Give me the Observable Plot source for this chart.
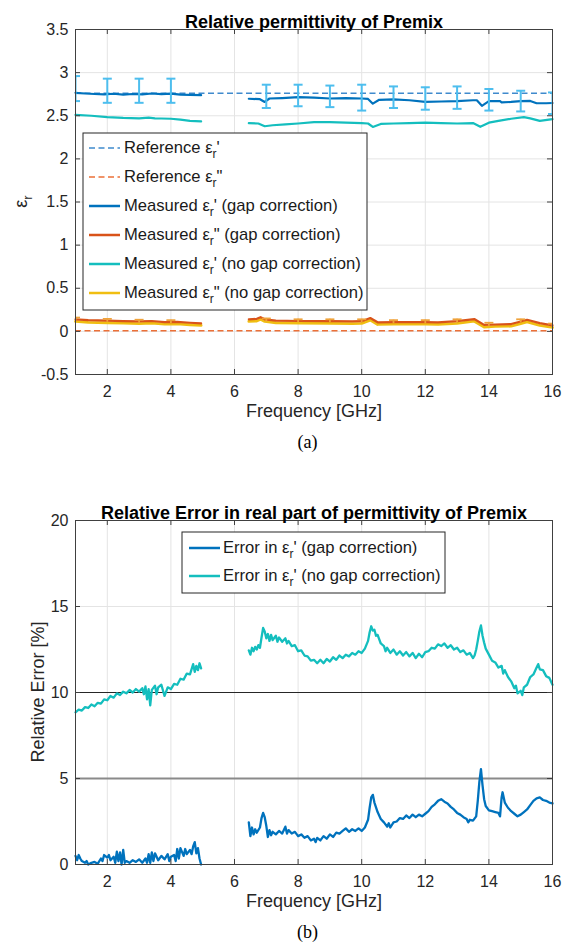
<!DOCTYPE html>
<html><head><meta charset="utf-8">
<script src="https://cdn.jsdelivr.net/npm/d3@7"></script>
<script src="https://cdn.jsdelivr.net/npm/@observablehq/plot@0.6"></script>
<style>
html,body{margin:0;padding:0;background:#fff;}
#c svg{display:block;}
</style>
</head><body><div id="c"></div>
<script>
// ---------- DATA ----------
const xTicks = [2, 4, 6, 8, 10, 12, 14, 16];
const yTicksTop = [-0.5, 0, 0.5, 1, 1.5, 2, 2.5, 3, 3.5];
const yTicksBottom = [0, 5, 10, 15, 20];

const refReal = 2.76;   // Reference eps_r'
const refImag = 0.008;  // Reference eps_r''

// [frequency GHz, value]; NaN marks the measurement gap
const measRealGap = [[1.0,2.766],[1.3,2.758],[1.6,2.752],[1.9,2.748],[2.2,2.755],[2.5,2.745],[2.8,2.752],[3.1,2.748],[3.4,2.758],[3.7,2.75],[4.0,2.756],[4.3,2.745],[4.6,2.742],[4.95,2.738],[5.7,NaN],
 [6.45,2.697],[6.8,2.692],[6.95,2.66],[7.1,2.70],[7.5,2.705],[8.0,2.715],[8.5,2.71],[9.0,2.70],[9.5,2.705],[10.0,2.70],[10.2,2.695],[10.35,2.64],[10.55,2.685],[11.0,2.69],[11.5,2.68],[12.0,2.66],[12.5,2.665],[13.0,2.67],[13.5,2.68],[13.62,2.68],[13.78,2.615],[14.0,2.67],[14.35,2.67],[14.4,2.655],[14.7,2.66],[15.0,2.67],[15.3,2.672],[15.5,2.645],[15.8,2.645],[16.0,2.648]];

const measRealNoGap = [[1.0,2.51],[1.5,2.50],[2.0,2.485],[2.5,2.475],[3.0,2.47],[3.3,2.478],[3.5,2.47],[3.7,2.468],[4.0,2.465],[4.3,2.455],[4.6,2.44],[4.95,2.435],[5.7,NaN],
 [6.45,2.414],[6.75,2.41],[6.95,2.378],[7.2,2.39],[7.6,2.40],[8.0,2.41],[8.5,2.425],[9.0,2.425],[9.5,2.42],[10.0,2.415],[10.2,2.41],[10.35,2.37],[10.6,2.405],[11.0,2.41],[11.5,2.415],[12.0,2.42],[12.5,2.415],[13.0,2.41],[13.5,2.415],[13.73,2.372],[14.0,2.42],[14.3,2.44],[14.7,2.465],[15.1,2.484],[15.3,2.47],[15.6,2.44],[16.0,2.46]];

const measImagGap = [[1.0,0.14],[1.4,0.13],[2.0,0.125],[2.5,0.118],[3.0,0.115],[3.4,0.12],[3.8,0.108],[4.2,0.11],[4.6,0.10],[4.95,0.093],[5.7,NaN],
 [6.45,0.14],[6.7,0.145],[6.82,0.165],[6.95,0.14],[7.3,0.125],[8.0,0.12],[9.0,0.118],[9.7,0.115],[10.0,0.118],[10.27,0.155],[10.5,0.105],[11.0,0.108],[12.0,0.108],[12.4,0.105],[13.0,0.118],[13.54,0.143],[13.85,0.075],[14.2,0.08],[14.7,0.085],[15.0,0.115],[15.2,0.135],[15.6,0.095],[16.0,0.07]];

const measImagNoGap = [[1.0,0.115],[1.4,0.105],[2.0,0.10],[2.5,0.095],[3.0,0.09],[3.4,0.095],[3.8,0.085],[4.2,0.087],[4.6,0.077],[4.95,0.07],[5.7,NaN],
 [6.45,0.115],[6.7,0.12],[6.82,0.14],[6.95,0.115],[7.3,0.10],[8.0,0.095],[9.0,0.093],[9.7,0.09],[10.0,0.093],[10.27,0.13],[10.5,0.08],[11.0,0.083],[12.0,0.083],[12.4,0.08],[13.0,0.093],[13.54,0.118],[13.85,0.05],[14.2,0.057],[14.7,0.06],[15.0,0.09],[15.2,0.11],[15.6,0.07],[16.0,0.045]];

// error bars [frequency, low, high]
const errBarsReal = [[1,2.67,2.96],[2,2.65,2.93],[3,2.65,2.93],[4,2.65,2.93],[7,2.59,2.86],[8,2.61,2.86],[9,2.60,2.85],[10,2.56,2.86],[11,2.59,2.84],[12,2.57,2.83],[13,2.58,2.84],[14,2.56,2.81],[15,2.55,2.79],[16,2.52,2.77]];
const errBarsImag = [[1,0.12,0.16],[2,0.105,0.145],[3,0.095,0.135],[4,0.09,0.13],[7,0.11,0.15],[8,0.10,0.14],[9,0.10,0.14],[10,0.10,0.14],[11,0.09,0.13],[12,0.09,0.13],[13,0.10,0.14],[14,0.06,0.10],[15,0.10,0.14],[16,0.05,0.09]];

// Relative error in eps_r' [%]
const errorNoGap = [[1.0,8.85],[1.1,9.0],[1.2,8.95],[1.3,9.15],[1.4,9.1],[1.5,9.3],[1.6,9.2],[1.7,9.4],[1.8,9.35],[1.9,9.6],[2.0,9.55],[2.1,9.8],[2.2,9.7],[2.3,9.95],[2.4,9.85],[2.5,10.05],[2.6,9.95],[2.7,10.15],[2.8,10.0],[2.9,10.2],[3.0,10.05],[3.1,10.25],[3.15,9.9],[3.2,10.35],[3.25,9.6],[3.3,10.2],[3.35,9.25],[3.4,10.15],[3.5,10.4],[3.55,9.9],[3.6,10.3],[3.7,10.45],[3.8,9.8],[3.9,10.3],[4.0,10.2],[4.1,10.5],[4.2,10.45],[4.3,10.8],[4.4,10.75],[4.5,11.1],[4.6,11.05],[4.7,11.65],[4.75,11.2],[4.8,11.55],[4.85,11.3],[4.9,11.7],[4.95,11.4],[5.7,NaN],
 [6.45,12.45],[6.5,12.2],[6.55,12.6],[6.6,12.4],[6.65,12.65],[6.7,12.5],[6.75,12.75],[6.8,12.6],[6.85,13.2],[6.9,13.75],[6.95,13.55],[7.0,13.15],[7.05,13.4],[7.1,13.0],[7.15,13.35],[7.2,13.05],[7.3,13.3],[7.35,12.95],[7.4,13.2],[7.5,12.95],[7.6,13.15],[7.65,12.85],[7.7,13.0],[7.8,12.7],[7.9,12.75],[8.0,12.4],[8.1,12.45],[8.2,12.15],[8.3,12.1],[8.4,11.85],[8.5,11.9],[8.6,11.7],[8.7,11.9],[8.8,11.7],[8.9,11.95],[9.0,11.8],[9.1,12.05],[9.2,11.9],[9.3,12.15],[9.4,12.0],[9.5,12.2],[9.6,12.1],[9.7,12.3],[9.8,12.2],[9.9,12.4],[10.0,12.3],[10.1,12.55],[10.2,13.0],[10.25,13.5],[10.3,13.85],[10.35,13.6],[10.4,13.65],[10.45,13.3],[10.5,13.35],[10.6,12.85],[10.7,12.7],[10.75,12.4],[10.8,12.6],[10.9,12.3],[11.0,12.5],[11.1,12.2],[11.2,12.4],[11.3,12.15],[11.4,12.35],[11.5,12.1],[11.6,12.3],[11.7,12.0],[11.8,12.25],[11.9,12.05],[12.0,12.35],[12.1,12.4],[12.2,12.6],[12.3,12.55],[12.4,12.8],[12.5,12.7],[12.6,12.85],[12.7,12.6],[12.8,12.75],[12.9,12.5],[13.0,12.6],[13.1,12.35],[13.2,12.45],[13.3,12.2],[13.4,12.3],[13.5,12.0],[13.55,12.15],[13.6,12.5],[13.65,13.0],[13.7,13.55],[13.75,13.9],[13.8,13.3],[13.85,12.9],[13.9,12.55],[14.0,12.2],[14.1,11.85],[14.2,11.75],[14.3,11.45],[14.4,11.55],[14.45,11.1],[14.5,11.3],[14.6,10.9],[14.7,10.65],[14.8,10.25],[14.85,10.4],[14.9,9.95],[15.0,10.1],[15.05,9.85],[15.1,10.3],[15.2,10.45],[15.3,10.9],[15.4,11.05],[15.5,11.45],[15.55,11.65],[15.6,11.35],[15.7,11.3],[15.8,10.95],[15.9,10.85],[16.0,10.45]];

const errorGap = [[1.0,0.5],[1.05,0.25],[1.1,0.55],[1.15,0.35],[1.2,0.2],[1.3,0.1],[1.35,0.2],[1.4,0.0],[1.5,0.1],[1.6,0.15],[1.7,0.05],[1.8,0.35],[1.85,0.2],[1.9,0.55],[2.0,0.4],[2.05,0.55],[2.1,0.25],[2.2,0.45],[2.25,0.1],[2.3,0.75],[2.35,0.2],[2.4,0.7],[2.45,0.0],[2.5,0.85],[2.55,0.1],[2.6,0.2],[2.7,0.1],[2.8,0.25],[2.9,0.15],[3.0,0.3],[3.1,0.1],[3.2,0.35],[3.25,0.1],[3.3,0.6],[3.35,0.1],[3.4,0.7],[3.45,0.2],[3.5,0.65],[3.6,0.25],[3.7,0.5],[3.8,0.3],[3.9,0.6],[3.95,0.2],[4.0,0.45],[4.1,0.55],[4.15,0.2],[4.2,0.9],[4.25,0.35],[4.3,0.95],[4.4,0.5],[4.45,0.9],[4.5,0.6],[4.6,0.85],[4.65,0.6],[4.7,1.05],[4.75,1.3],[4.8,0.65],[4.85,0.95],[4.9,0.35],[4.95,0.0],[5.7,NaN],
 [6.45,2.45],[6.5,1.65],[6.55,2.15],[6.6,1.75],[6.65,2.05],[6.7,1.85],[6.8,2.15],[6.85,2.7],[6.9,3.0],[6.95,2.75],[7.0,2.25],[7.05,1.6],[7.1,2.0],[7.15,1.7],[7.2,1.9],[7.3,1.75],[7.4,1.95],[7.5,1.8],[7.6,2.2],[7.65,1.8],[7.7,2.0],[7.8,1.8],[7.9,1.9],[8.0,1.65],[8.1,1.75],[8.2,1.55],[8.3,1.65],[8.4,1.4],[8.5,1.5],[8.55,1.3],[8.6,1.55],[8.7,1.4],[8.8,1.65],[8.9,1.5],[9.0,1.75],[9.1,1.6],[9.2,1.85],[9.3,1.8],[9.4,1.95],[9.5,2.1],[9.6,1.9],[9.7,2.05],[9.8,1.95],[9.9,2.1],[10.0,1.95],[10.1,2.15],[10.2,2.6],[10.25,3.3],[10.3,3.9],[10.35,4.05],[10.4,3.6],[10.5,3.05],[10.6,2.65],[10.7,2.45],[10.8,2.2],[10.85,2.4],[10.9,2.15],[11.0,2.45],[11.1,2.5],[11.2,2.7],[11.3,2.65],[11.4,2.85],[11.5,2.7],[11.6,2.9],[11.7,2.75],[11.8,2.9],[11.9,2.8],[12.0,2.95],[12.1,3.1],[12.2,3.35],[12.3,3.5],[12.4,3.7],[12.5,3.8],[12.6,3.65],[12.7,3.55],[12.8,3.35],[12.9,3.2],[13.0,3.0],[13.1,2.9],[13.2,2.75],[13.3,2.65],[13.35,2.45],[13.4,2.6],[13.5,2.55],[13.6,2.8],[13.65,3.7],[13.7,4.8],[13.75,5.55],[13.8,4.6],[13.85,3.8],[13.9,3.4],[14.0,3.15],[14.1,3.1],[14.2,3.05],[14.3,3.0],[14.35,2.8],[14.4,3.9],[14.43,4.2],[14.5,3.6],[14.6,3.3],[14.7,3.1],[14.8,2.95],[14.9,2.8],[15.0,2.9],[15.1,3.05],[15.2,3.2],[15.3,3.45],[15.4,3.7],[15.5,3.85],[15.6,3.9],[15.7,3.75],[15.8,3.7],[15.9,3.6],[16.0,3.55]];

const refErrorLines = [10, 5];

// ---------- STYLE ----------
const FONT = "'Liberation Sans', Arial, Helvetica, sans-serif";
const SERIF = "'Liberation Serif', 'Times New Roman', serif";
const BLUE = "#0072BD", ORANGE = "#D95319", YELLOW = "#F0BE12", CYAN = "#14BEBE";
const REFBLUE = "#3F8ACD", REFORANGE = "#EC7038", ERRBLUE = "#4DBEEE", ERRORANGE = "#EFA23A";
const GRID = "#e4e4e4", AX = "#404040";
const W = 571;
const M = {left: 75, right: 19};
const FW = W - M.left - M.right;
const LEGFONT = 16.6;

const pts = a => a.map(([f, v]) => ({f, v}));
const bars = a => a.map(([f, lo, hi]) => ({f, lo, hi}));
const capSymbol = {draw(ctx, size) { const r = Math.sqrt(size / Math.PI); ctx.moveTo(-r, 0); ctx.lineTo(r, 0); }};
const fmt = d => String(d);

function frameMarks(yTicks, FH) {
  return [
    Plot.frame({stroke: AX, strokeWidth: 1}),
    Plot.tickX(xTicks, {x: d => d, insetTop: FH - 5, stroke: AX}),
    Plot.tickX(xTicks, {x: d => d, insetBottom: FH - 5, stroke: AX}),
    Plot.tickY(yTicks, {y: d => d, insetRight: FW - 5, stroke: AX}),
    Plot.tickY(yTicks, {y: d => d, insetLeft: FW - 5, stroke: AX}),
    Plot.axisX({ticks: xTicks, tickSize: 0, tickPadding: 11, fontSize: 16, label: null, tickFormat: fmt}),
    Plot.axisY({ticks: yTicks, tickSize: 0, tickPadding: 7, fontSize: 16, label: null, tickFormat: fmt})
  ];
}

function epsText(g, x, y, size, pre, prime, post, anchor) {
  const t = g.append("text").attr("x", x).attr("y", y).attr("font-family", FONT)
    .attr("font-size", size).attr("fill", "#1a1a1a").attr("text-anchor", anchor || "start");
  t.append("tspan").text(pre + "ε");
  t.append("tspan").attr("dy", 5).attr("font-size", size * 0.72).text("r");
  t.append("tspan").attr("dy", -5).text(prime + post);
  return t;
}

function legend(svg, items, box, rowYs, lx1, lx2, tx) {
  const g = d3.select(svg).append("g");
  g.append("rect").attr("x", box.x).attr("y", box.y).attr("width", box.w).attr("height", box.h)
    .attr("fill", "white").attr("stroke", "#262626").attr("stroke-width", 1);
  items.forEach((it, i) => {
    const y = rowYs[i];
    g.append("line").attr("x1", lx1).attr("x2", lx2).attr("y1", y + 1).attr("y2", y + 1)
      .attr("stroke", it.color).attr("stroke-width", it.dash ? 1.5 : 2.5)
      .attr("stroke-dasharray", it.dash ? "6,3.5" : null);
    epsText(g, tx, y + 6, LEGFONT, it.pre, it.prime, it.post);
  });
}

// ---------- TOP CHART ----------
const H1 = 470, T1 = 29, B1 = 374;
const FH1 = B1 - T1;
const topChart = Plot.plot({
  width: W, height: H1, marginTop: T1, marginBottom: H1 - B1, marginLeft: M.left, marginRight: M.right,
  x: {domain: [1, 16]}, y: {domain: [-0.5, 3.5]},
  style: {fontFamily: FONT, background: "white", color: "#262626", overflow: "visible"},
  marks: [
    Plot.gridX(xTicks, {stroke: GRID, strokeOpacity: 1}),
    Plot.gridY(yTicksTop, {stroke: GRID, strokeOpacity: 1}),
    Plot.ruleY([refReal], {stroke: REFBLUE, strokeWidth: 1.5, strokeDasharray: "6,3.5"}),
    Plot.ruleY([refImag], {stroke: REFORANGE, strokeWidth: 1.5, strokeDasharray: "6,3.5"}),
    Plot.line(pts(measImagNoGap), {x: "f", y: "v", stroke: YELLOW, strokeWidth: 2.8}),
    Plot.line(pts(measImagGap), {x: "f", y: "v", stroke: ORANGE, strokeWidth: 2.2}),
    Plot.ruleX(bars(errBarsImag), {x: "f", y1: "lo", y2: "hi", stroke: ERRORANGE, strokeWidth: 1.8, clip: true}),
    Plot.dot(bars(errBarsImag), {x: "f", y: "hi", symbol: capSymbol, r: 4.5, stroke: ERRORANGE, strokeWidth: 1.8, fill: "none", clip: true}),
    Plot.line(pts(measRealNoGap), {x: "f", y: "v", stroke: CYAN, strokeWidth: 2.2}),
    Plot.line(pts(measRealGap), {x: "f", y: "v", stroke: BLUE, strokeWidth: 2.2}),
    Plot.ruleX(bars(errBarsReal), {x: "f", y1: "lo", y2: "hi", stroke: ERRBLUE, strokeWidth: 2, clip: true}),
    Plot.dot(bars(errBarsReal), {x: "f", y: "lo", symbol: capSymbol, r: 4.5, stroke: ERRBLUE, strokeWidth: 2, fill: "none", clip: true}),
    Plot.dot(bars(errBarsReal), {x: "f", y: "hi", symbol: capSymbol, r: 4.5, stroke: ERRBLUE, strokeWidth: 2, fill: "none", clip: true}),
    ...frameMarks(yTicksTop, FH1),
    Plot.text(["Relative permittivity of Premix"], {text: d => d, frameAnchor: "top", dy: -14.5, fontWeight: "bold", fontSize: 18, fill: "#000"}),
    Plot.text(["Frequency [GHz]"], {text: d => d, frameAnchor: "bottom", dy: 42, fontSize: 18, fill: "#262626"}),
    Plot.text(["(a)"], {text: d => d, frameAnchor: "bottom", dx: -6.5, dy: 73, fontSize: 18, fontFamily: SERIF, fill: "#000"})
  ]
});
{
  const g = d3.select(topChart);
  const t = g.append("text").attr("transform", `translate(27,${(T1 + B1) / 2}) rotate(-90)`)
    .attr("text-anchor", "middle").attr("font-family", FONT).attr("font-size", 18).attr("fill", "#262626");
  t.append("tspan").text("ε");
  t.append("tspan").attr("dy", 5).attr("font-size", 13).text("r");
}
legend(topChart, [
  {pre: "Reference ", prime: "'", post: "", color: REFBLUE, dash: true},
  {pre: "Reference ", prime: "\"", post: "", color: REFORANGE, dash: true},
  {pre: "Measured ", prime: "'", post: " (gap correction)", color: BLUE},
  {pre: "Measured ", prime: "\"", post: " (gap correction)", color: ORANGE},
  {pre: "Measured ", prime: "'", post: " (no gap correction)", color: CYAN},
  {pre: "Measured ", prime: "\"", post: " (no gap correction)", color: YELLOW}
], {x: 83, y: 133, w: 284, h: 177}, [147, 176, 205, 234, 263, 292], 89, 120, 124);

// ---------- BOTTOM CHART ----------
const H2 = 478, T2 = 50, B2 = 394;
const FH2 = B2 - T2;
const bottomChart = Plot.plot({
  width: W, height: H2, marginTop: T2, marginBottom: H2 - B2, marginLeft: M.left, marginRight: M.right,
  x: {domain: [1, 16]}, y: {domain: [0, 20]},
  style: {fontFamily: FONT, background: "white", color: "#262626", overflow: "visible"},
  marks: [
    Plot.gridX(xTicks, {stroke: GRID, strokeOpacity: 1}),
    Plot.gridY(yTicksBottom, {stroke: GRID, strokeOpacity: 1}),
    Plot.ruleY([refErrorLines[0]], {stroke: "#262626", strokeWidth: 1.2}),
    Plot.ruleY([refErrorLines[1]], {stroke: "#8a8a8a", strokeWidth: 2}),
    Plot.line(pts(errorNoGap), {x: "f", y: "v", stroke: CYAN, strokeWidth: 2.3}),
    Plot.line(pts(errorGap), {x: "f", y: "v", stroke: BLUE, strokeWidth: 2.3}),
    ...frameMarks(yTicksBottom, FH2),
    Plot.text(["Relative Error in real part of permittivity of Premix"], {text: d => d, frameAnchor: "top", dy: -14.5, fontWeight: "bold", fontSize: 18, fill: "#000"}),
    Plot.text(["Frequency [GHz]"], {text: d => d, frameAnchor: "bottom", dy: 42.5, fontSize: 18, fill: "#262626"}),
    Plot.text(["(b)"], {text: d => d, frameAnchor: "bottom", dx: -6.5, dy: 73, fontSize: 18, fontFamily: SERIF, fill: "#000"})
  ]
});
{
  const g = d3.select(bottomChart);
  g.append("text").attr("transform", `translate(44,${(T2 + B2) / 2}) rotate(-90)`)
    .attr("text-anchor", "middle").attr("font-family", FONT).attr("font-size", 18).attr("fill", "#262626")
    .text("Relative Error [%]");
}
legend(bottomChart, [
  {pre: "Error in ", prime: "'", post: " (gap correction)", color: BLUE},
  {pre: "Error in ", prime: "'", post: " (no gap correction)", color: CYAN}
], {x: 182, y: 62, w: 263, h: 61}, [77, 105], 189, 220, 223);

document.getElementById("c").append(topChart, bottomChart);
</script>
</body></html>
